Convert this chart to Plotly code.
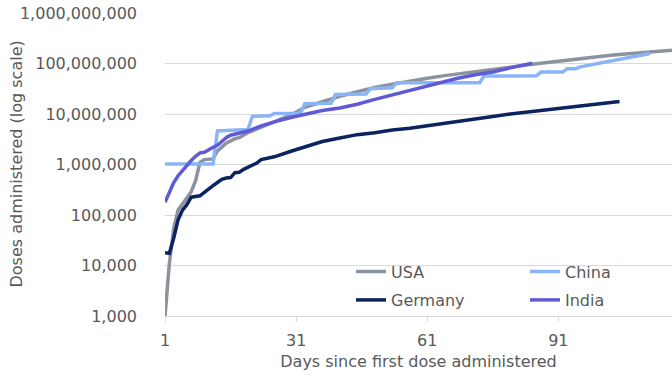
import plotly.graph_objects as go

# Cumulative vaccine doses by days since each country's first dose
usa_days = [1, 2, 3, 4, 5, 6, 7, 8, 9, 10, 12, 13, 15, 17, 18, 20, 23, 26, 30, 33, 37, 41, 45,
            49, 53, 57, 61, 65, 69, 72, 76, 80, 84, 88, 92, 95, 99, 103, 107, 111, 114, 117]
usa_doses = [1000, 11000, 55000, 125000, 165000, 215000, 290000, 480000, 1100000, 1250000,
             1290000, 1850000, 2650000, 3250000, 3400000, 4300000, 5400000, 7000000, 9800000,
             13500000, 17500000, 22400000, 27500000, 33500000, 39000000, 45000000, 51000000,
             57500000, 64000000, 70000000, 78000000, 86000000, 94000000, 103000000, 114000000,
             124000000, 134000000, 146000000, 156000000, 168000000, 175000000, 183000000]

china_days = [1, 12, 13, 19, 20, 21, 25, 26, 32, 33, 39, 40, 47, 48, 53, 54, 73, 74, 86, 87,
              92, 93, 95, 96, 99, 100, 101, 104, 106, 108, 110, 112]
china_doses = [1020000, 1020000, 4600000, 4750000, 4950000, 9000000, 9200000, 10200000,
               10300000, 15900000, 16300000, 24300000, 25000000, 31700000, 33000000, 41500000,
               41500000, 56700000, 57000000, 67500000, 67500000, 78500000, 79000000, 86000000,
               96000000, 103000000, 106000000, 118000000, 128000000, 134000000, 143000000,
               158000000]

germany_days = [1, 2, 3, 4, 5, 6, 7, 8, 9, 10, 11, 12, 13, 14, 15, 16, 17, 18, 19, 20, 21, 22,
                23, 26, 30, 33, 37, 41, 45, 49, 53, 57, 61, 65, 69, 72, 76, 80, 84, 88, 92,
                95, 99, 101, 103, 105]
germany_doses = [18000, 17500, 35000, 80000, 125000, 160000, 225000, 235000, 240000, 280000,
                 320000, 380000, 440000, 510000, 540000, 550000, 690000, 700000, 800000, 890000,
                 960000, 1070000, 1250000, 1420000, 1850000, 2250000, 2850000, 3350000,
                 3900000, 4250000, 4800000, 5200000, 5800000, 6400000, 7100000, 7900000,
                 8900000, 10000000, 10900000, 11900000, 13100000, 14100000, 15000000,
                 15600000, 16400000, 17600000]

india_days = [1, 2, 3, 4, 5, 6, 7, 8, 9, 10, 11, 12, 13, 14, 15, 16, 17, 18, 20, 23, 26, 30,
              33, 37, 41, 45, 49, 52, 56, 60, 64, 68, 72, 76, 80, 85]
india_doses = [178000, 280000, 440000, 600000, 760000, 920000, 1200000, 1450000, 1700000,
               1750000, 2000000, 2200000, 2400000, 2900000, 3400000, 3800000, 4000000, 4200000,
               4600000, 5800000, 7000000, 8600000, 9900000, 11700000, 13200000, 15600000,
               19500000, 22800000, 27800000, 34500000, 43000000, 51000000, 60000000, 68000000,
               82000000, 101000000]

x_tick_vals = [1, 31, 61, 91]
y_tick_vals = [1e3, 1e4, 1e5, 1e6, 1e7, 1e8, 1e9]
y_tick_text = ["1,000", "10,000", "100,000", "1,000,000", "10,000,000",
               "100,000,000", "1,000,000,000"]

FONT = "DejaVu Sans"
TEXT = "#595959"
GRID = "#d9d9d9"
FS = 16

# Plot area geometry (pixels) used to place the legend entries
L, R, T, B = 165, 0, 13, 64
PW, PH = 672 - L - R, 380 - T - B

# name, days, doses, colour, legend id, legend left x (px), legend row centre y (px)
series = [
    ("USA", usa_days, usa_doses, "#8B939E", "legend", 351, 271.5),
    ("China", china_days, china_doses, "#8AB4F8", "legend2", 525, 271.5),
    ("Germany", germany_days, germany_doses, "#0B2361", "legend3", 351, 300),
    ("India", india_days, india_doses, "#5F5BD6", "legend4", 525, 300),
]

fig = go.Figure()
legends = {}
for name, d, v, color, leg, lx, ly in series:
    fig.add_trace(go.Scatter(
        x=d, y=v, name=name, mode="lines",
        line=dict(color=color, width=3.5),
        legend=leg, showlegend=True,
    ))
    legends[leg] = dict(
        x=(lx - L) / PW, y=(T + PH - ly) / PH,
        xanchor="left", yanchor="middle", orientation="h",
        bgcolor="rgba(0,0,0,0)",
        font=dict(family=FONT, size=FS, color=TEXT),
    )

fig.update_layout(
    width=672, height=380,
    margin=dict(l=L, r=R, t=T, b=B),
    paper_bgcolor="white", plot_bgcolor="white",
    showlegend=True,
    font=dict(family=FONT, size=FS, color=TEXT),
    xaxis=dict(
        range=[1, 117], tickvals=x_tick_vals, showgrid=False, zeroline=False,
        showline=True, linecolor=GRID, linewidth=1,
        ticks="outside", ticklen=5, tickcolor=GRID, ticklabelstandoff=5,
        tickfont=dict(family=FONT, size=FS, color=TEXT),
        title=dict(text="Days since first dose administered", standoff=6,
                   font=dict(family=FONT, size=FS, color=TEXT)),
    ),
    yaxis=dict(
        type="log", range=[3, 9], tickvals=y_tick_vals, ticktext=y_tick_text,
        showgrid=True, gridcolor=GRID, gridwidth=1, zeroline=False, showline=False,
        ticks="", ticklabelstandoff=27,
        tickfont=dict(family=FONT, size=FS, color=TEXT),
    ),
    annotations=[dict(
        text="Doses administered (log scale)", textangle=-90,
        xref="paper", yref="paper", x=(16 - L) / PW, y=0.5,
        xanchor="center", yanchor="middle", showarrow=False,
        font=dict(family=FONT, size=FS, color=TEXT),
    )],
    **legends,
)

fig.write_html("out.html")
